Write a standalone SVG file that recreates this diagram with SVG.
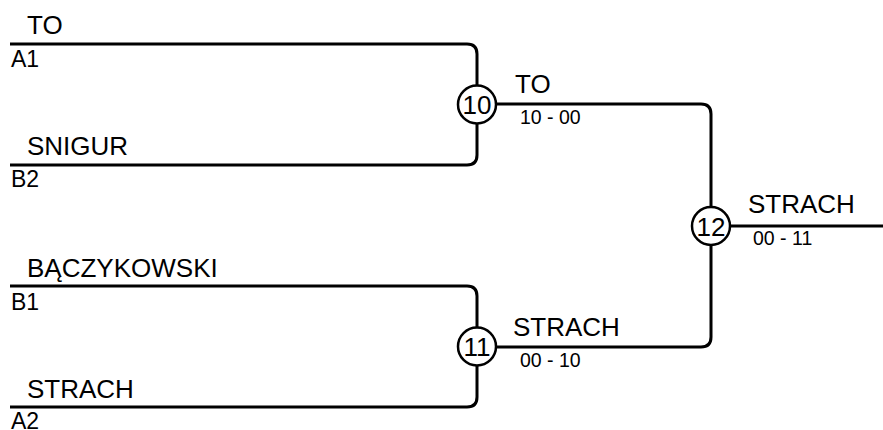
<svg xmlns="http://www.w3.org/2000/svg" width="883" height="430" viewBox="0 0 883 430">
<style>
.ln{fill:none;stroke:#000;stroke-width:3}
.c{fill:#fff;stroke:#000;stroke-width:2.5}
.nm{font-family:"Liberation Sans",Arial,sans-serif;font-size:26px;fill:#000}
.sl{font-family:"Liberation Sans",Arial,sans-serif;font-size:23px;fill:#000}
.sc{font-family:"Liberation Sans",Arial,sans-serif;font-size:19.5px;fill:#000}
.cn{font-family:"Liberation Sans",Arial,sans-serif;font-size:26px;fill:#000;text-anchor:middle}
</style>
<rect width="883" height="430" fill="#fff"/>
<g id="connectors">
<path class="ln" d="M10,44 H467 Q477,44 477,54 V155 Q477,165 467,165 H10"/>
<path class="ln" d="M10,286 H467 Q477,286 477,296 V397 Q477,407 467,407 H10"/>
<path class="ln" d="M477,104 H701 Q711,104 711,114 V337 Q711,347 701,347 H477"/>
<path class="ln" d="M711,226 H883"/>
</g>
<g id="slot-A1"><text class="nm" x="27" y="34">TO</text><text class="sl" x="11" y="67">A1</text></g>
<g id="slot-B2"><text class="nm" x="27" y="155">SNIGUR</text><text class="sl" x="11" y="187">B2</text></g>
<g id="slot-B1"><text class="nm" x="27" y="277">BĄCZYKOWSKI</text><text class="sl" x="11" y="310">B1</text></g>
<g id="slot-A2"><text class="nm" x="27" y="398">STRACH</text><text class="sl" x="11" y="429">A2</text></g>
<g id="match-10"><circle class="c" cx="477" cy="104.5" r="19"/><text class="cn" x="477" y="114">10</text><text class="nm" x="515" y="93">TO</text><text class="sc" x="520" y="124">10 - 00</text></g>
<g id="match-11"><circle class="c" cx="477" cy="346.5" r="19"/><text class="cn" x="477" y="356">11</text><text class="nm" x="513" y="336">STRACH</text><text class="sc" x="520" y="367">00 - 10</text></g>
<g id="match-12"><circle class="c" cx="711" cy="226" r="19"/><text class="cn" x="711" y="235.5">12</text><text class="nm" x="748" y="213">STRACH</text><text class="sc" x="753" y="245">00 - 11</text></g>
</svg>
